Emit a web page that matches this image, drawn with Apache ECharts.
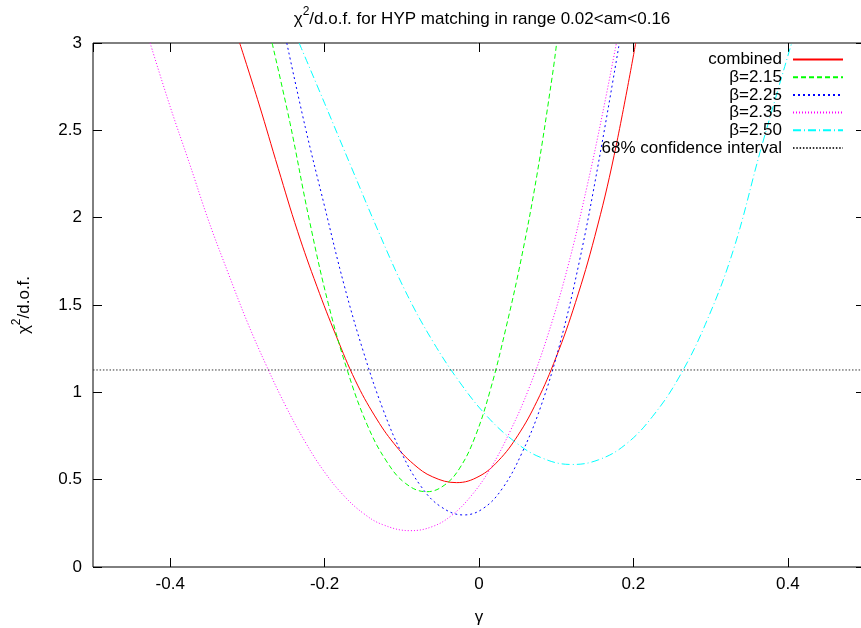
<!DOCTYPE html>
<html>
<head>
<meta charset="utf-8">
<script src="https://cdn.jsdelivr.net/npm/echarts@6/dist/echarts.min.js"></script>
<style>html,body{margin:0;padding:0;background:#fff;overflow:hidden}#c{width:861px;height:628px}</style>
</head>
<body>
<div id="c"></div>
<script>
// ---- data ----
const gammaCombined = [-0.310,-0.285,-0.260,-0.235,-0.210,-0.185,-0.160,-0.135,-0.110,-0.085,-0.060,-0.029,0.000,0.025,0.050,0.075,0.100,0.125,0.150,0.175,0.203];
const chiCombined   = [3.0,2.651,2.281,1.922,1.607,1.323,1.066,0.865,0.706,0.590,0.516,0.483,0.519,0.608,0.751,0.948,1.202,1.515,1.893,2.356,3.0];

const gamma215 = [-0.268,-0.245,-0.220,-0.195,-0.170,-0.145,-0.120,-0.095,-0.0677,-0.045,-0.025,-0.005,0.015,0.035,0.055,0.075,0.095,0.1006];
const chi215   = [3.0,2.546,1.991,1.504,1.118,0.816,0.607,0.478,0.431,0.468,0.566,0.746,1.019,1.370,1.771,2.243,2.813,3.0];

const gamma225 = [-0.249,-0.225,-0.200,-0.175,-0.150,-0.125,-0.100,-0.075,-0.050,-0.020,0.005,0.030,0.055,0.080,0.105,0.130,0.155,0.1818];
const chi225   = [3.0,2.517,2.064,1.619,1.236,0.910,0.650,0.461,0.347,0.298,0.334,0.448,0.647,0.918,1.282,1.749,2.319,3.0];

const gamma235 = [-0.426,-0.400,-0.375,-0.350,-0.325,-0.300,-0.275,-0.250,-0.225,-0.200,-0.175,-0.150,-0.125,-0.089,-0.060,-0.035,-0.010,0.015,0.040,0.065,0.090,0.115,0.140,0.160,0.178];
const chi235   = [3.0,2.635,2.310,1.979,1.684,1.401,1.149,0.918,0.715,0.543,0.408,0.308,0.243,0.208,0.232,0.297,0.408,0.565,0.774,1.026,1.339,1.718,2.180,2.595,3.0];

const gamma250 = [-0.233,-0.200,-0.165,-0.130,-0.095,-0.060,-0.025,0.010,0.045,0.080,0.120,0.155,0.190,0.225,0.260,0.295,0.330,0.365,0.405];
const chi250   = [3.0,2.655,2.285,1.918,1.576,1.293,1.058,0.865,0.722,0.627,0.587,0.614,0.702,0.863,1.093,1.408,1.822,2.39,3.0];

const confGamma = [-0.5, 0.5];
const confChi   = [1.128, 1.128];

const seriesNames = ['combined','β=2.15','β=2.25','β=2.35','β=2.50','68% confidence interval'];

const xTicks = [-0.4,-0.2,0,0.2,0.4];
const xTickLabels = ['-0.4','-0.2','0','0.2','0.4'];
const yTicks = [0,0.5,1,1.5,2,2.5,3];
const yTickLabels = ['0','0.5','1','1.5','2','2.5','3'];

// ---- build ----
function zip(a,b){ return a.map((v,i)=>[v,b[i]]); }
function lab(ticks, labels){ return function(v){ for(let i=0;i<ticks.length;i++){ if(Math.abs(v-ticks[i])<1e-9) return labels[i]; } return ''; }; }

const FONT = 'Liberation Sans, Arial, sans-serif';
const FS = 17;

const chart = echarts.init(document.getElementById('c'), null, {renderer:'canvas'});

function lineSeries(name, data, color, type){
  return {
    name, type:'line', data, showSymbol:false, symbol:'none', smooth:0.4,
    xAxisIndex:0, yAxisIndex:0,
    lineStyle:{color, width:1, type},
    itemStyle:{color},
    emphasis:{disabled:true}, silent:true, animation:false
  };
}

const tickStyle = {show:true, inside:true, length:9, lineStyle:{color:'#000'}};
const noLine = {show:false, onZero:false};

const option = {
  animation:false,
  backgroundColor:'#fff',
  title:{
    text:'{n|χ}{s|2}{n|/d.o.f. for HYP matching in range 0.02<am<0.16}',
    left:477, top:1, textAlign:'center',
    textStyle:{
      fontWeight:'normal',
      rich:{
        n:{fontFamily:FONT, fontSize:FS, fontWeight:'normal', color:'#000', verticalAlign:'bottom', lineHeight:22},
        s:{fontFamily:FONT, fontSize:12, fontWeight:'normal', color:'#000', verticalAlign:'top', lineHeight:22}
      }
    }
  },
  legend:{
    orient:'vertical', align:'right', right:12, top:46,
    itemWidth:50, itemHeight:10, itemGap:0.7,
    itemStyle:{opacity:0},
    textStyle:{fontFamily:FONT, fontSize:FS, color:'#000', lineHeight:17, padding:[0,6,0,0]},
    data:seriesNames.map(n=>({name:n})),
    selectedMode:false
  },
  grid:{left:93, top:43, right:-4, bottom:61, outerBoundsMode:'none', containLabel:false,
        show:true, borderColor:'#000', borderWidth:1, backgroundColor:'transparent'},
  xAxis:[{
    type:'value', min:-0.5, max:0.5,
    name:'γ', nameLocation:'middle', nameGap:42,
    nameTextStyle:{fontFamily:FONT, fontSize:FS, color:'#000'},
    axisLine:noLine, axisTick:tickStyle,
    axisLabel:{formatter:lab(xTicks,xTickLabels), fontFamily:FONT, fontSize:FS, color:'#000', margin:9, showMinLabel:false, showMaxLabel:false},
    splitLine:{show:false}
  },{
    type:'value', min:-0.5, max:0.5, position:'top',
    axisLine:noLine, axisTick:tickStyle,
    axisLabel:{show:false}, splitLine:{show:false}
  }],
  yAxis:[{
    type:'value', min:0, max:3, interval:0.5, position:'left',
    name:'{n|χ}{s|2}{n|/d.o.f.}', nameLocation:'middle', nameGap:60, nameRotate:90,
    nameTextStyle:{
      rich:{
        n:{fontFamily:FONT, fontSize:FS, color:'#000', verticalAlign:'bottom', lineHeight:22},
        s:{fontFamily:FONT, fontSize:12, color:'#000', verticalAlign:'top', lineHeight:22}
      }
    },
    axisLine:noLine, axisTick:tickStyle,
    axisLabel:{formatter:lab(yTicks,yTickLabels), fontFamily:FONT, fontSize:FS, color:'#000', margin:11},
    splitLine:{show:false}
  },{
    type:'value', min:0, max:3, interval:0.5, position:'right',
    axisLine:noLine, axisTick:tickStyle,
    axisLabel:{show:false}, splitLine:{show:false}
  }],
  series:[
    lineSeries(seriesNames[0], zip(gammaCombined,chiCombined), '#ff0000', 'solid'),
    lineSeries(seriesNames[1], zip(gamma215,chi215), '#00ff00', [5,3]),
    lineSeries(seriesNames[2], zip(gamma225,chi225), '#0000ff', [2,3]),
    lineSeries(seriesNames[3], zip(gamma235,chi235), '#ff00ff', [1,2]),
    lineSeries(seriesNames[4], zip(gamma250,chi250), '#00ffff', [8,3,1,3]),
    Object.assign(lineSeries(seriesNames[5], zip(confGamma,confChi), '#333333', [1.5,1.8]), {smooth:false})
  ]
};
chart.setOption(option);
</script>
</body>
</html>
